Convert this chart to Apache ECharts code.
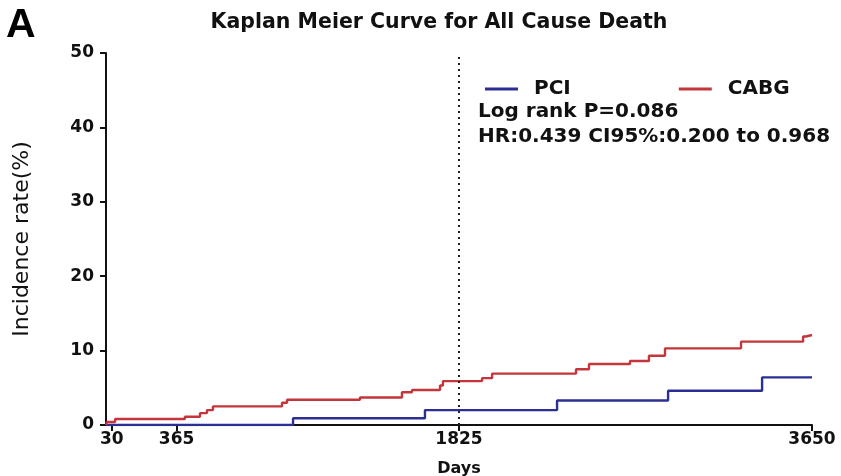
<!DOCTYPE html>
<html>
<head>
<meta charset="utf-8">
<script src="https://cdn.jsdelivr.net/npm/echarts@6/dist/echarts.min.js"></script>
<style>
  html, body { margin: 0; padding: 0; background: #fff; }
  #chart { width: 841px; height: 476px; }
</style>
</head>
<body>
<div id="chart"></div>
<script>
// Cumulative incidence (%) by follow-up day; each point marks the day a step occurs
const pciDays    = [0, 967, 1649, 2332, 2906, 3392, 3650];
const pciValues  = [0, 0.9, 2.0, 3.3, 4.6, 6.4, 6.4];

const cabgDays   = [0, 5, 47, 408, 486, 522, 553, 910, 936, 1313, 1530, 1582, 1727, 1742, 1944, 1996, 2430, 2497, 2709, 2807, 2890, 3283, 3604, 3619, 3650];
const cabgValues = [0, 0.4, 0.8, 1.1, 1.6, 2.0, 2.5, 3.0, 3.4, 3.7, 4.4, 4.7, 5.3, 5.9, 6.3, 6.9, 7.5, 8.2, 8.6, 9.3, 10.3, 11.2, 11.9, 12.1, 12.1];

const xTickDays  = [30, 365, 1825, 3650];
const yTicks     = [0, 10, 20, 30, 40, 50];
const cutoffDay  = 1825;

const seriesNames = ['PCI', 'CABG'];
const chartTitle  = 'Kaplan Meier Curve for All Cause Death';
const panelLetter = 'A';
const statLines   = ['Log rank P=0.086', 'HR:0.439 CI95%:0.200 to 0.968'];

const FONT  = '"DejaVu Sans", Verdana, sans-serif';
const FONT2 = '"Liberation Sans", Arial, Helvetica, sans-serif';
const INK  = '#111';
const BLUE = '#2b2f95';
const RED  = '#c4363b';

const zip = (xs, ys) => xs.map((x, i) => [x, ys[i]]);

const chart = echarts.init(document.getElementById('chart'), null, { renderer: 'canvas' });

chart.setOption({
  animation: false,
  backgroundColor: '#ffffff',
  textStyle: { fontFamily: FONT },
  title: [
    {
      text: chartTitle,
      left: 434, top: 7, textAlign: 'center',
      textStyle: { fontFamily: FONT, fontSize: 20.5, fontWeight: 'bold', color: INK }
    },
    {
      text: panelLetter,
      left: 1, top: 0,
      textStyle: { fontFamily: FONT2, fontSize: 41, fontWeight: 'bold', color: '#000' }
    },
    {
      text: statLines[0],
      left: 473, top: 97,
      textStyle: { fontFamily: FONT, fontSize: 20, fontWeight: 'bold', color: INK }
    },
    {
      text: statLines[1],
      left: 473, top: 122,
      textStyle: { fontFamily: FONT, fontSize: 20, fontWeight: 'bold', color: INK }
    }
  ],
  legend: {
    data: seriesNames,
    left: 480, top: 74,
    icon: 'rect',
    itemWidth: 33, itemHeight: 3,
    itemGap: 108,
    textStyle: { fontFamily: FONT, fontSize: 20, fontWeight: 'bold', color: INK, padding: [0, 0, 0, 11] }
  },
  grid: { left: 106, right: 29, top: 53, bottom: 51, containLabel: false, outerBoundsMode: 'none' },
  xAxis: {
    type: 'value',
    min: 0, max: 3650,
    name: 'Days',
    nameLocation: 'middle',
    nameGap: 36,
    nameTextStyle: { fontFamily: FONT, fontSize: 16, fontWeight: 'bold', color: INK },
    axisLine: { lineStyle: { color: INK, width: 2 } },
    axisTick: { show: true, length: 6, lineStyle: { color: INK, width: 2 }, customValues: xTickDays },
    axisLabel: { customValues: xTickDays, margin: 6, fontFamily: FONT, fontSize: 17, fontWeight: 'bold', color: INK,
                 formatter: v => String(v) },
    splitLine: { show: false }
  },
  yAxis: {
    type: 'value',
    min: 0, max: 50, interval: 10,
    name: 'Incidence rate(%)',
    nameLocation: 'middle',
    nameGap: 73,
    nameTextStyle: { fontFamily: FONT, fontSize: 22, fontWeight: 'normal', color: INK },
    axisLine: { show: true, lineStyle: { color: INK, width: 2 } },
    axisTick: { show: true, length: 6, lineStyle: { color: INK, width: 2 } },
    axisLabel: { margin: 12, fontFamily: FONT, fontSize: 17, fontWeight: 'bold', color: INK,
                 formatter: v => (yTicks.includes(v) ? String(v) : '') },
    splitLine: { show: false }
  },
  series: [
    {
      name: seriesNames[0],
      type: 'line',
      step: 'end',
      showSymbol: false,
      symbol: 'none',
      color: BLUE,
      lineStyle: { color: BLUE, width: 2.4 },
      data: zip(pciDays, pciValues),
      z: 3,
      markLine: {
        silent: true,
        symbol: 'none',
        label: { show: false },
        lineStyle: { color: '#222', type: [2, 4], width: 2 },
        data: [[{ coord: [cutoffDay, 0] }, { coord: [cutoffDay, 50] }]]
      }
    },
    {
      name: seriesNames[1],
      type: 'line',
      step: 'end',
      showSymbol: false,
      symbol: 'none',
      color: RED,
      lineStyle: { color: RED, width: 2.4 },
      data: zip(cabgDays, cabgValues),
      z: 4
    }
  ]
});
</script>
</body>
</html>
